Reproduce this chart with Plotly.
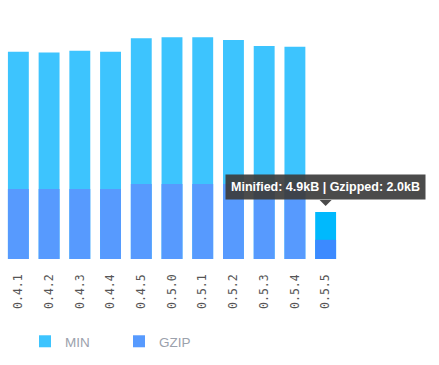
import plotly.graph_objects as go

versions = ["0.4.1", "0.4.2", "0.4.3", "0.4.4", "0.4.5", "0.5.0", "0.5.1", "0.5.2", "0.5.3", "0.5.4", "0.5.5"]
min_kb = [21.6, 21.5, 21.7, 21.6, 23.0, 23.1, 23.1, 22.8, 22.2, 22.1, 4.9]
gzip_kb = [7.3, 7.3, 7.3, 7.3, 7.8, 7.8, 7.8, 7.8, 7.8, 7.8, 2.0]
tooltip_text = "Minified: 4.9kB | Gzipped: 2.0kB"

n = len(versions)
min_colors = ["#3DC4FE"] * (n - 1) + ["#00B9FD"]
gzip_colors = ["#579AFE"] * (n - 1) + ["#3C8AFF"]

W, H = 439, 365
ML, MR, MT, MB = 3, 98, 19, 106
pw, ph = W - ML - MR, H - MT - MB

fig = go.Figure()
fig.add_trace(go.Bar(x=versions, y=min_kb, name="MIN", marker=dict(color=min_colors, line=dict(width=0)),
                     hoverinfo="none"))
fig.add_trace(go.Bar(x=versions, y=gzip_kb, name="GZIP", marker=dict(color=gzip_colors, line=dict(width=0)),
                     hoverinfo="none"))

# tooltip on last bar
fig.add_annotation(x=versions[-1], y=min_kb[-1], xref="x", yref="y",
                   text="<b>" + tooltip_text + "</b>", showarrow=False,
                   yanchor="bottom", yshift=12, xshift=0,
                   bgcolor="rgba(60,60,60,0.92)", borderpad=5,
                   font=dict(family="Liberation Sans, Arial", size=12.5, color="white"))
fig.add_shape(type="path", xref="x", yref="y", xsizemode="pixel", ysizemode="pixel",
              xanchor=versions[-1], yanchor=min_kb[-1],
              path="M-6,12 L6,12 L0,6 Z", fillcolor="rgba(60,60,60,0.92)", line=dict(width=0))

fig.update_layout(
    width=W, height=H,
    margin=dict(l=ML, r=MR, t=MT, b=MB, autoexpand=False),
    barmode="overlay", bargap=0.32,
    paper_bgcolor="white", plot_bgcolor="white",
    showlegend=True,
    legend=dict(orientation="h", xref="paper", yref="paper",
                x=(25 - ML) / pw, y=(H - MB - 341.5) / ph,
                xanchor="left", yanchor="middle", entrywidth=49, entrywidthmode="pixels",
                font=dict(family="Liberation Sans, Arial", size=13.5, color="#9BA1AC")),
    xaxis=dict(type="category", range=[-0.5, n - 0.5], tickangle=-90, showgrid=False,
               zeroline=False, showline=False, ticks="", ticklabelstandoff=12, automargin=False,
               tickfont=dict(family="DejaVu Sans Mono", size=11.5, color="#555555")),
    yaxis=dict(range=[0, 25], visible=False, showgrid=False, zeroline=False),
)

fig.write_html("out.html", config={"displayModeBar": False},
               post_script="document.body.style.margin='0';")
